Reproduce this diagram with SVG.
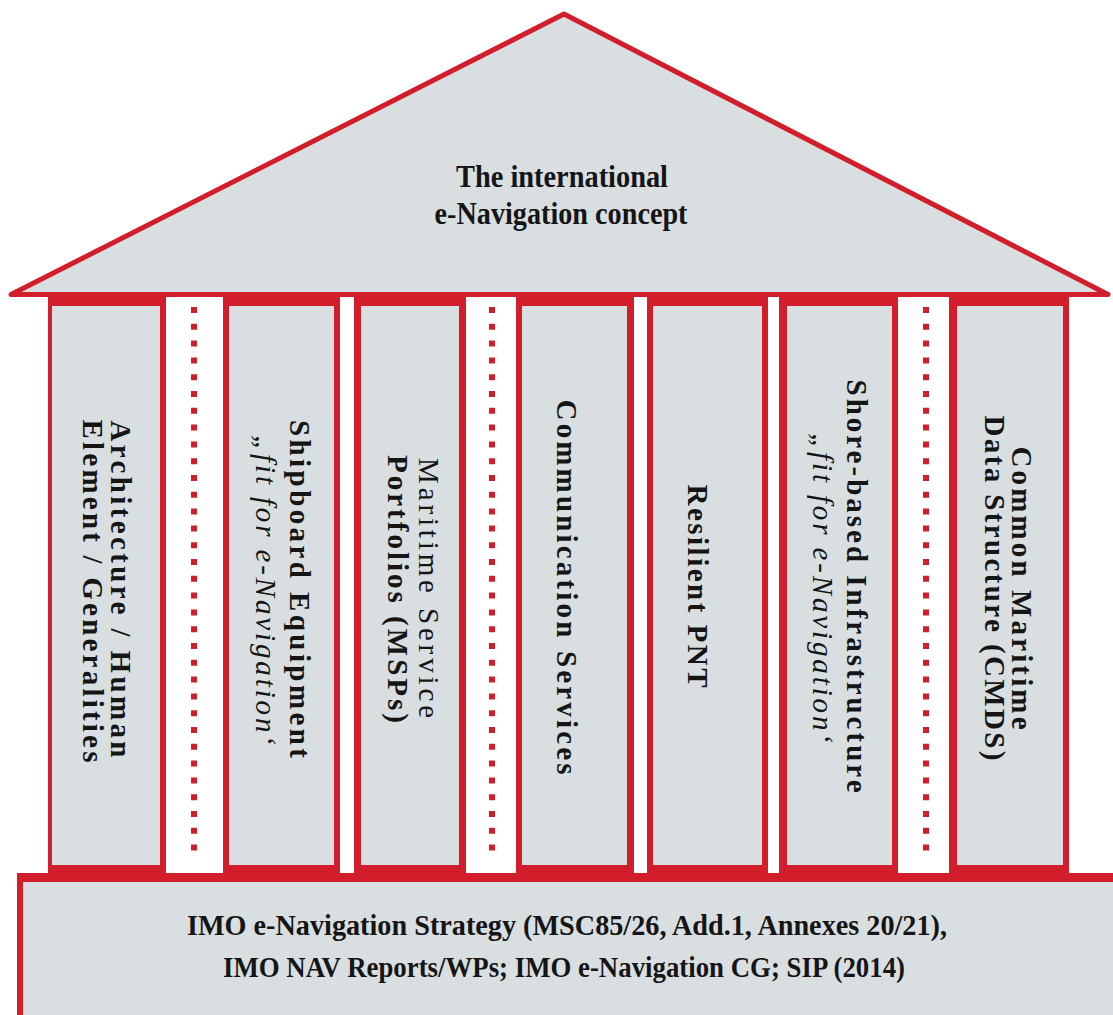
<svg xmlns="http://www.w3.org/2000/svg" width="1113" height="1015" viewBox="0 0 1113 1015">
  <style>
    .frame { fill: #D21D2A; }
    .panel { fill: #D9DFE1; }
    .lbl { font-family: "Liberation Serif", "DejaVu Serif", serif; font-weight: bold; fill: #151515; }
    .col { font-size: 29px; text-anchor: middle; }
    .thin { font-weight: normal; }
    .ital { font-style: italic; font-weight: normal; }
    .dots { stroke: #D21D2A; stroke-width: 6; stroke-dasharray: 6 10.8; fill: none; }
  </style>

  <!-- roof -->
  <g id="roof">
    <polygon points="11,294.5 564,14 1108,294.5" fill="#D9DFE1" stroke="#D21D2A" stroke-width="5" stroke-linejoin="round"/>
    <text class="lbl" x="562" y="187" font-size="32" text-anchor="middle" textLength="212" lengthAdjust="spacingAndGlyphs">The international</text>
    <text class="lbl" x="561" y="224" font-size="32" text-anchor="middle" textLength="253" lengthAdjust="spacingAndGlyphs">e-Navigation concept</text>
  </g>

  <!-- foundation -->
  <g id="foundation">
    <rect class="frame" x="17" y="873" width="1110" height="160"/>
    <rect class="panel" x="23" y="882" width="1100" height="150"/>
    <text class="lbl" x="567" y="935" font-size="30" text-anchor="middle" textLength="760" lengthAdjust="spacingAndGlyphs">IMO e-Navigation Strategy (MSC85/26, Add.1, Annexes 20/21),</text>
    <text class="lbl" x="564" y="977" font-size="30" text-anchor="middle" textLength="682" lengthAdjust="spacingAndGlyphs">IMO NAV Reports/WPs; IMO e-Navigation CG; SIP (2014)</text>
  </g>

  <!-- pillars -->
  <g id="pillar-architecture">
    <rect class="frame" x="48" y="297" width="118" height="576"/>
    <rect class="panel" x="52" y="306" width="108" height="559"/>
    <text class="lbl col" transform="translate(111,589) rotate(90)" textLength="337" lengthAdjust="spacing">Architecture / Human</text>
    <text class="lbl col" transform="translate(83,591) rotate(90)" textLength="343" lengthAdjust="spacing">Element / Generalities</text>
  </g>

  <g id="pillar-shipboard">
    <rect class="frame" x="223" y="297" width="117" height="576"/>
    <rect class="panel" x="229" y="306" width="105" height="559"/>
    <text class="lbl col" transform="translate(290,589) rotate(90)" textLength="338" lengthAdjust="spacing">Shipboard Equipment</text>
    <text class="lbl col ital" transform="translate(256,590) rotate(90)" textLength="310" lengthAdjust="spacing">„fit for e-Navigation‘</text>
  </g>

  <g id="pillar-msp">
    <rect class="frame" x="354" y="297" width="112" height="576"/>
    <rect class="panel" x="361" y="306" width="98" height="559"/>
    <text class="lbl col thin" transform="translate(419,588) rotate(90)" textLength="260" lengthAdjust="spacing">Maritime Service</text>
    <text class="lbl col" transform="translate(388,589) rotate(90)" textLength="268" lengthAdjust="spacing">Portfolios (MSPs)</text>
  </g>

  <g id="pillar-communication">
    <rect class="frame" x="516" y="297" width="118" height="576"/>
    <rect class="panel" x="522" y="306" width="105" height="559"/>
    <text class="lbl col" transform="translate(557,587) rotate(90)" textLength="375" lengthAdjust="spacing">Communication Services</text>
  </g>

  <g id="pillar-pnt">
    <rect class="frame" x="647" y="297" width="121" height="576"/>
    <rect class="panel" x="653" y="306" width="109" height="559"/>
    <text class="lbl col" transform="translate(688,586) rotate(90)" textLength="203" lengthAdjust="spacing">Resilient PNT</text>
  </g>

  <g id="pillar-shore">
    <rect class="frame" x="779" y="297" width="119" height="576"/>
    <rect class="panel" x="787" y="306" width="105" height="559"/>
    <text class="lbl col" transform="translate(847,586) rotate(90)" textLength="413" lengthAdjust="spacing">Shore-based Infrastructure</text>
    <text class="lbl col ital" transform="translate(813,588) rotate(90)" textLength="310" lengthAdjust="spacing">„fit for e-Navigation‘</text>
  </g>

  <g id="pillar-cmds">
    <rect class="frame" x="949" y="297" width="120" height="576"/>
    <rect class="panel" x="957" y="306" width="106" height="559"/>
    <text class="lbl col" transform="translate(1012,588) rotate(90)" textLength="283" lengthAdjust="spacing">Common Maritime</text>
    <text class="lbl col" transform="translate(985,588) rotate(90)" textLength="345" lengthAdjust="spacing">Data Structure (CMDS)</text>
  </g>

  <!-- dotted links between paired pillars -->
  <g id="connectors">
    <line class="dots" x1="194" y1="307" x2="194" y2="853"/>
    <line class="dots" x1="492" y1="307" x2="492" y2="853"/>
    <line class="dots" x1="926" y1="307" x2="926" y2="853"/>
  </g>
</svg>
